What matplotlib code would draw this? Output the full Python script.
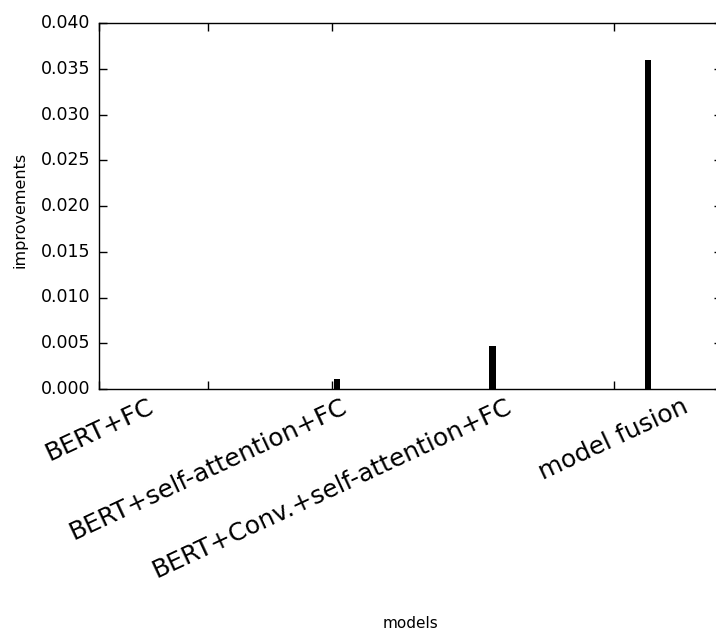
import matplotlib
matplotlib.use('Agg')
import matplotlib.pyplot as plt
from matplotlib.ticker import FormatStrFormatter
import numpy as np

plt.style.use('classic')

# Data
models = ['BERT+FC', 'BERT+self-attention+FC', 'BERT+Conv.+self-attention+FC', 'model fusion']
improvements = [0.0, 0.0011, 0.0047, 0.036]
bar_x = [0, 1, 2, 3]
tick_x = [-0.53, 0.17, 0.97, 2.78]

W, H = 716, 637
fig = plt.figure(figsize=(W / 100, H / 100), dpi=100)
fig.patch.set_facecolor('white')
ax = fig.add_axes([99 / W, 1 - 389 / H, (722 - 99) / W, (389 - 23) / H])

ax.bar(bar_x, improvements, width=0.04, color='k', edgecolor='none', align='center')

ax.set_xlim(-0.53, 3.476)
ax.set_ylim(0, 0.04)
ax.set_yticks(np.arange(0, 0.0401, 0.005))
ax.yaxis.set_major_formatter(FormatStrFormatter('%.3f'))
ax.set_xticks(tick_x)
ax.set_xticklabels(models, rotation=25, fontsize=18)
ax.tick_params(axis='both', direction='in', length=5.8, width=1, top=True, right=True)
ax.tick_params(axis='y', labelsize=12.5, pad=6)
ax.tick_params(axis='x', pad=4)

ax.set_xlabel('models', fontsize=11)
ax.set_ylabel('improvements', fontsize=11.5)
ax.xaxis.set_label_coords(0.5, (389 - 616) / 366)
ax.yaxis.set_label_coords((28 - 99) / 623, 0.49)

plt.savefig('out.png', dpi=100, facecolor='white')
